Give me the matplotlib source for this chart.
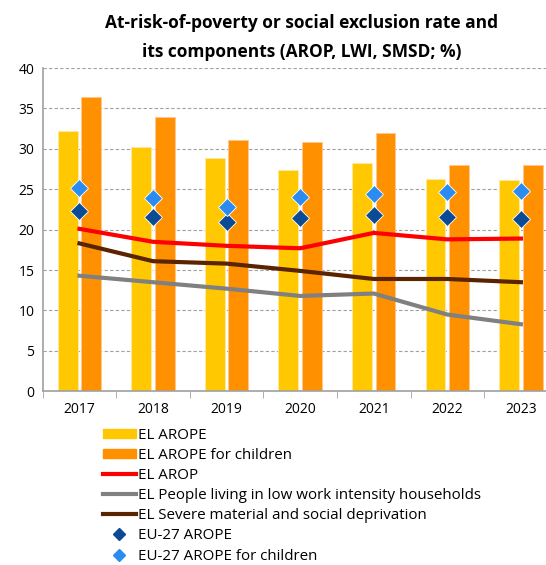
import numpy as np
import matplotlib.pyplot as plt
from matplotlib.patches import Patch
from matplotlib.lines import Line2D

years = ['2017', '2018', '2019', '2020', '2021', '2022', '2023']
el_arope = [32.2, 30.2, 28.9, 27.4, 28.3, 26.3, 26.1]
el_arope_children = [36.4, 34.0, 31.1, 30.8, 32.0, 28.0, 28.0]
el_arop = [20.1, 18.5, 18.0, 17.7, 19.6, 18.8, 18.9]
el_lwi = [14.3, 13.5, 12.7, 11.8, 12.1, 9.5, 8.3]
el_smsd = [18.3, 16.1, 15.8, 14.9, 13.9, 13.9, 13.5]
eu_arope = [22.3, 21.6, 21.0, 21.5, 21.8, 21.6, 21.3]
eu_arope_children = [25.1, 23.9, 22.8, 24.0, 24.4, 24.7, 24.8]

c_yellow = '#FFC800'
c_orange = '#FF9100'
c_red = '#FF0000'
c_gray = '#808080'
c_brown = '#5A2400'
c_dblue = '#0B4A94'
c_lblue = '#2A8CF0'

plt.rcParams['font.family'] = ['Open Sans', 'DejaVu Sans']

fig = plt.figure(figsize=(5.46, 5.65), dpi=100)
ax = fig.add_axes([0.0782, 0.3074, 0.9432, 0.5722])

x = np.arange(len(years))
w = 0.27
off = 0.16
ax.bar(x - off, el_arope, w, color=c_yellow, edgecolor='#FFE9A0', linewidth=0.6, zorder=2)
ax.bar(x + off, el_arope_children, w, color=c_orange, edgecolor='#FFC890', linewidth=0.6, zorder=2)
ax.plot(x, el_arop, color=c_red, lw=3, zorder=3)
ax.plot(x, el_lwi, color=c_gray, lw=3, zorder=3)
ax.plot(x, el_smsd, color=c_brown, lw=3, zorder=3)
ax.plot(x, eu_arope, 'D', color=c_dblue, ms=9, mec='white', mew=0.6, zorder=4)
ax.plot(x, eu_arope_children, 'D', color=c_lblue, ms=9, mec='white', mew=0.6, zorder=4)

ax.set_xlim(-0.5, len(years) - 0.5)
ax.set_ylim(0, 40)
ax.set_yticks(range(0, 41, 5))
ax.yaxis.grid(True, ls=(0, (3, 2)), color='#A0A0A0', lw=0.8, zorder=0)
ax.set_axisbelow(True)
ax.set_xticks(x)
ax.set_xticklabels(years)
ax.set_xticks(np.arange(-0.5, len(years), 1), minor=True)
ax.tick_params(axis='x', which='major', length=0, labelsize=10, pad=8)
ax.tick_params(axis='x', which='minor', length=5, color='#A0A0A0', direction='out')
ax.tick_params(axis='y', length=0, labelsize=10, pad=6)
for s in ['top', 'right']:
    ax.spines[s].set_visible(False)
for s in ['left', 'bottom']:
    ax.spines[s].set_color('#A0A0A0')
    ax.spines[s].set_linewidth(1.2)

fig.text(0.553, 0.975, 'At-risk-of-poverty or social exclusion rate and\nits components (AROP, LWI, SMSD; %)',
         ha='center', va='top', fontsize=12.5, fontweight='bold', linespacing=1.75)

handles = [
    Patch(color=c_yellow, label='EL AROPE'),
    Patch(color=c_orange, label='EL AROPE for children'),
    Line2D([], [], color=c_red, lw=3, label='EL AROP'),
    Line2D([], [], color=c_gray, lw=3, label='EL People living in low work intensity households'),
    Line2D([], [], color=c_brown, lw=3, label='EL Severe material and social deprivation'),
    Line2D([], [], ls='', marker='D', color=c_dblue, ms=6.5, label='EU-27 AROPE'),
    Line2D([], [], ls='', marker='D', color=c_lblue, ms=6.5, label='EU-27 AROPE for children'),
]
fig.legend(handles=handles, loc='upper left', bbox_to_anchor=(0.188, 0.243), frameon=False,
           fontsize=10.9, handlelength=2.2, handleheight=0.6, handletextpad=0.15,
           labelspacing=0.34, borderaxespad=0, borderpad=0)

fig.savefig('out.png', dpi=100)
